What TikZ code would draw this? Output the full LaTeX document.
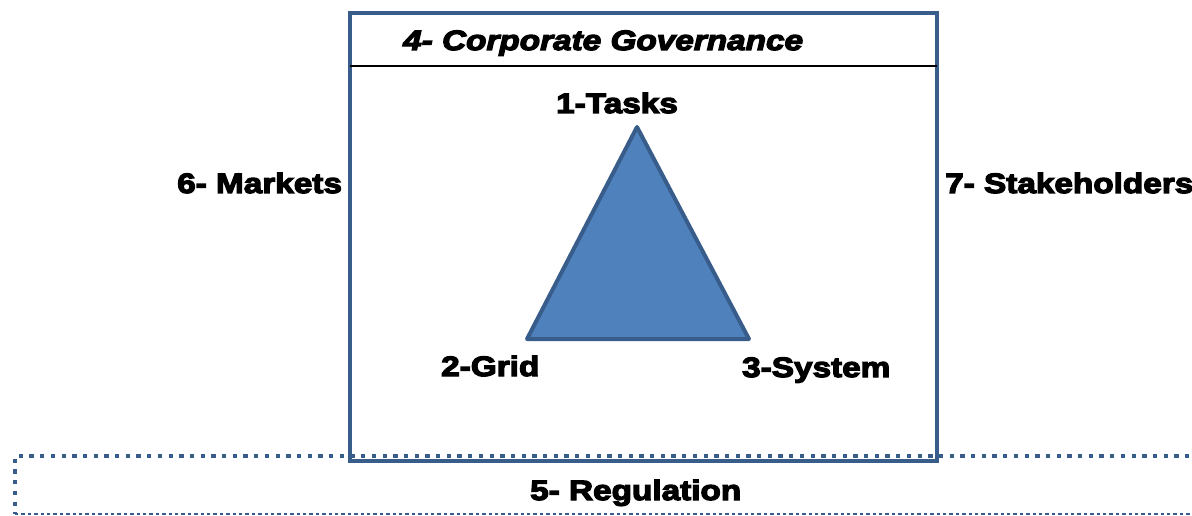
\documentclass[tikz,border=0pt]{standalone}
\usepackage{fontspec}
\newfontfamily\blk[FakeStretch=1.19,FakeBold=4.5]{Liberation Sans Bold}
\newfontfamily\blki[FakeStretch=1.19,FakeBold=4.5]{Liberation Sans Bold Italic}
\definecolor{edge}{HTML}{385D8A}
\definecolor{tri}{HTML}{4F81BD}
\tikzset{
  lbl/.style={inner sep=0pt, anchor=base west, font=\blk\fontsize{28}{32}\selectfont},
  lbli/.style={inner sep=0pt, anchor=base west, font=\blki\fontsize{28}{32}\selectfont},
  mainbox/.style={draw=edge, line width=4pt},
  dotline/.style={draw=edge, line width=4pt, dash pattern=on 4.3pt off 6.4pt},
  dashline/.style={draw=edge, line width=2.2pt, dash pattern=on 3.4pt off 3pt},
  trishape/.style={fill=tri, draw=edge, line width=4pt, line join=round}
}
\begin{document}
\begin{tikzpicture}[x=1pt,y=-1pt]
\useasboundingbox (0,0) rectangle (1192,516);
\clip (0,0) rectangle (1192,516);
% regulation band
\draw[dotline] (1200,456) -- (15,456) -- (15,514);
\draw[dashline] (15,514) -- (1200,514);
% main box
\draw[mainbox] (350,13) rectangle (937,461);
\draw[black, line width=1.8pt] (350,66) -- (937,66);
% triangle
\coordinate (apex) at (637,127);
\coordinate (bl) at (527,339);
\coordinate (br) at (749,339);
\draw[trishape] (apex) -- (bl) -- (br) -- cycle;
% labels
\node[lbli] (gov) at (403,50) {4- Corporate Governance};
\node[lbl] (tasks) at (556,113) {1-Tasks};
\node[lbl] (grid) at (441,376) {2-Grid};
\node[lbl] (sys) at (742,377) {3-System};
\node[lbl] (mkt) at (177,193) {6- Markets};
\node[lbl] (stk) at (945,193) {7- Stakeholders};
\node[lbl] (reg) at (530,500) {5- Regulation};
\end{tikzpicture}
\end{document}
